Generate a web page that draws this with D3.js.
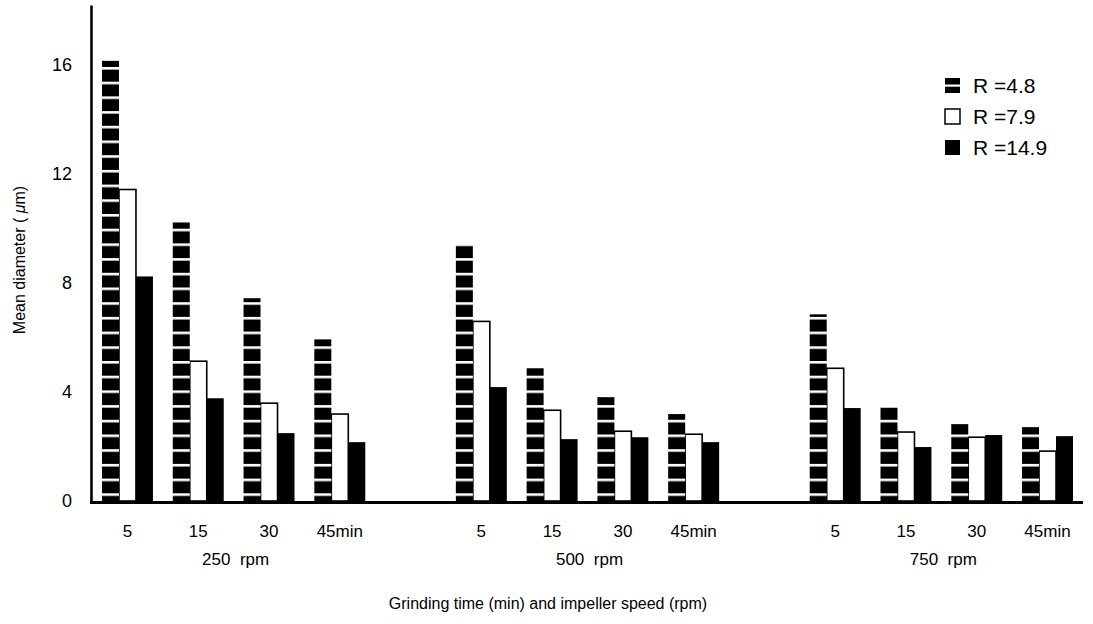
<!DOCTYPE html>
<html>
<head>
<meta charset="utf-8">
<script src="https://cdn.jsdelivr.net/npm/d3@7"></script>
<style>
  html, body { margin: 0; padding: 0; background: #fff; }
  svg text { font-family: "Liberation Sans", Arial, Helvetica, sans-serif; fill: #000; }
</style>
</head>
<body>
<svg id="chart" width="1093" height="624"></svg>
<script>
// ---- data ----
const speeds = ["250 rpm", "500 rpm", "750 rpm"];
const times = ["5", "15", "30", "45min"];
const seriesNames = ["R =4.8", "R =7.9", "R =14.9"];
const r48  = [16.15, 10.22, 7.44, 5.93,  9.38, 4.87, 3.81, 3.19,  6.85, 3.44, 2.82, 2.71];
const r79  = [11.43, 5.13, 3.59, 3.19,   6.59, 3.33, 2.56, 2.45,  4.87, 2.53, 2.34, 1.83];
const r149 = [8.24, 3.77, 2.49, 2.16,    4.18, 2.27, 2.34, 2.16,  3.41, 1.98, 2.42, 2.38];
const yTicks = [0, 4, 8, 12, 16];
const yTitle = "Mean diameter";
const xTitle = "Grinding time (min) and impeller speed (rpm)";

// ---- build slots ----
const slots = [];
const cells = [];
speeds.forEach((s, gi) => {
  times.forEach((t, ti) => {
    const key = s + "|" + t;
    slots.push(key);
    const i = gi * times.length + ti;
    cells.push({ key, speed: s, time: t, values: [r48[i], r79[i], r149[i]] });
  });
  if (gi < speeds.length - 1) slots.push("gap" + gi);
});

const svg = d3.select("#chart");

const x = d3.scaleBand().domain(slots).range([102, 1073]).paddingInner(0.28).paddingOuter(0);
const xs = d3.scaleBand().domain(seriesNames).range([0, x.bandwidth()]).padding(0);
const y = d3.scaleLinear().domain([0, 18.2]).range([501, 5]);

// stripe pattern for R = 4.8
const defs = svg.append("defs");
const period = 14.7;
const pat = defs.append("pattern").attr("id", "stripes")
  .attr("patternUnits", "userSpaceOnUse")
  .attr("x", 0).attr("y", 140.5 % period)
  .attr("width", 1093).attr("height", period);
pat.append("rect").attr("width", 1093).attr("height", period).attr("fill", "#000");
pat.append("rect").attr("y", 0).attr("width", 1093).attr("height", 2.6).attr("fill", "#fff");

const legPat = defs.append("pattern").attr("id", "legstripe")
  .attr("patternUnits", "objectBoundingBox").attr("width", 1).attr("height", 1);
legPat.append("rect").attr("width", 15).attr("height", 15).attr("fill", "#000");
legPat.append("rect").attr("y", 6.5).attr("width", 15).attr("height", 2.2).attr("fill", "#fff");

// ---- bars ----
const g = svg.append("g");
const groupsSel = g.selectAll("g.cell").data(cells).join("g")
  .attr("class", "cell")
  .attr("transform", d => `translate(${x(d.key)},0)`);

// white (R=7.9) bars first
groupsSel.append("rect")
  .attr("x", xs(seriesNames[1]))
  .attr("y", d => y(d.values[1]))
  .attr("width", xs.bandwidth())
  .attr("height", d => y(0) - y(d.values[1]))
  .attr("fill", "#fff").attr("stroke", "#000").attr("stroke-width", 1.6);

// striped R=4.8
groupsSel.append("rect")
  .attr("x", xs(seriesNames[0]))
  .attr("y", d => y(d.values[0]))
  .attr("width", xs.bandwidth())
  .attr("height", d => y(0) - y(d.values[0]))
  .attr("fill", "url(#stripes)");

// solid R=14.9
groupsSel.append("rect")
  .attr("x", xs(seriesNames[2]))
  .attr("y", d => y(d.values[2]))
  .attr("width", xs.bandwidth())
  .attr("height", d => y(0) - y(d.values[2]))
  .attr("fill", "#000");

// ---- axes ----
const yAxis = d3.axisLeft(y).tickValues(yTicks).tickSize(0).tickPadding(19).tickFormat(d3.format("d"));
const yg = svg.append("g").attr("transform", "translate(91,0)").call(yAxis);
yg.select(".domain").attr("stroke", "#000").attr("stroke-width", 2.6);
yg.selectAll("text").attr("font-size", 18).attr("font-family", null);
yg.attr("font-family", null);

svg.append("line")
  .attr("x1", 90).attr("x2", 1083)
  .attr("y1", y(0) + 1.5).attr("y2", y(0) + 1.5)
  .attr("stroke", "#000").attr("stroke-width", 3);

// time labels
svg.append("g").selectAll("text").data(cells).join("text")
  .attr("x", d => x(d.key) + x.bandwidth() / 2)
  .attr("y", 537)
  .attr("text-anchor", "middle")
  .attr("font-size", 17)
  .text(d => d.time);

// speed labels
svg.append("g").selectAll("text").data(speeds).join("text")
  .attr("x", s => (x(s + "|" + times[0]) + x(s + "|" + times[times.length - 1]) + x.bandwidth()) / 2 + 2)
  .attr("y", 565)
  .attr("text-anchor", "middle")
  .attr("font-size", 17)
  .style("white-space", "pre")
  .text(s => s.replace(" ", "  "));

// x title
svg.append("text")
  .attr("x", 548).attr("y", 609)
  .attr("text-anchor", "middle")
  .attr("font-size", 16)
  .text(xTitle);

// y title
const yt = svg.append("text")
  .attr("transform", "translate(25,260) rotate(-90)")
  .attr("text-anchor", "middle")
  .attr("font-size", 16)
  .style("white-space", "pre");
yt.append("tspan").text(yTitle + " ( ");
yt.append("tspan").attr("font-style", "italic").text("\u03bc");
yt.append("tspan").text("m)");

// ---- legend ----
const legend = svg.append("g").attr("transform", "translate(945,78)");
const leg = legend.selectAll("g").data(seriesNames).join("g")
  .attr("transform", (d, i) => `translate(0,${i * 31})`);
leg.append("rect")
  .attr("width", 15).attr("height", 15)
  .attr("fill", (d, i) => i === 0 ? "url(#legstripe)" : i === 1 ? "#fff" : "#000")
  .attr("stroke", (d, i) => i === 1 ? "#000" : "none")
  .attr("stroke-width", 1.5);
leg.append("text")
  .attr("x", 28).attr("y", 15)
  .attr("font-size", 21)
  .text(d => d);
</script>
</body>
</html>
